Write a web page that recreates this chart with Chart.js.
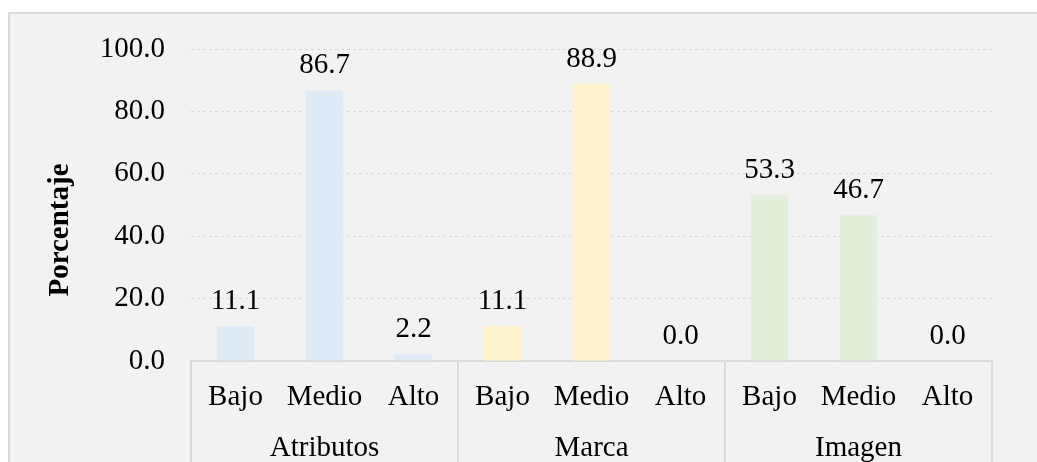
<!DOCTYPE html>
<html>
<head>
<meta charset="utf-8">
<script src="https://cdn.jsdelivr.net/npm/chart.js@4.4.1/dist/chart.umd.min.js"></script>
<style>
	html, body { margin: 0; padding: 0; background: #ffffff; overflow: hidden; }
	#panel {
		position: absolute; left: 8px; top: 12px; width: 1040px; height: 460px;
		background: #f2f2f2; border-left: 2px solid #d9d9d9; border-top: 2px solid #d9d9d9;
	}
	#myChart { position: absolute; left: 0; top: 0; }
</style>
</head>
<body>
<div id="panel"></div>
<canvas id="myChart" width="1037" height="462"></canvas>
<script>
const levels = ['Bajo', 'Medio', 'Alto']
const groups = ['Atributos', 'Marca', 'Imagen']
const atributos = [11.1, 86.7, 2.2]
const marca = [11.1, 88.9, 0.0]
const imagen = [53.3, 46.7, 0.0]
const groupColors = ['#deebf7', '#fff2cc', '#e2efda']
const yTicks = [0, 20, 40, 60, 80, 100]
const yTitle = 'Porcentaje'

const fontName = "'Liberation Serif', 'Times New Roman', serif"
const fontSize = 29
const lineColor = '#d9d9d9'

let labels = []
let values = []
let barColors = []
const series = [atributos, marca, imagen]
series.forEach((vals, g) => {
	vals.forEach((v, i) => {
		labels.push(levels[i])
		values.push(v)
		barColors.push(groupColors[g])
	})
})

// value labels above bars
const barValues = {
	id: 'barValues',
	afterDatasetsDraw(chart) {
		const ctx = chart.ctx
		const meta = chart.getDatasetMeta(0)
		ctx.save()
		ctx.font = fontSize + 'px ' + fontName
		ctx.fillStyle = '#000000'
		ctx.textAlign = 'center'
		ctx.textBaseline = 'alphabetic'
		meta.data.forEach((bar, i) => {
			ctx.fillText(values[i].toFixed(1), bar.x, bar.y - 17)
		})
		ctx.restore()
	}
}

// group labels, box lines under the x axis, and the y title
const groupAxis = {
	id: 'groupAxis',
	afterDraw(chart) {
		const ctx = chart.ctx
		const x = chart.scales.x
		const per = levels.length
		const half = (x.getPixelForValue(1) - x.getPixelForValue(0)) / 2
		const top = x.top
		const bottom = chart.height
		ctx.save()
		ctx.strokeStyle = lineColor
		ctx.lineWidth = 2
		for (let g = 0; g <= groups.length; g++) {
			let px
			if (g < groups.length) px = x.getPixelForValue(g * per) - half
			else px = x.getPixelForValue(g * per - 1) + half
			ctx.beginPath()
			ctx.moveTo(px, top)
			ctx.lineTo(px, bottom)
			ctx.stroke()
		}
		ctx.font = fontSize + 'px ' + fontName
		ctx.fillStyle = '#000000'
		ctx.textAlign = 'center'
		ctx.textBaseline = 'alphabetic'
		groups.forEach((name, g) => {
			const cx = (x.getPixelForValue(g * per) + x.getPixelForValue(g * per + per - 1)) / 2
			ctx.fillText(name, cx, 456)
		})

		// y axis title
		ctx.translate(61, 230)
		ctx.rotate(-Math.PI / 2)
		ctx.font = 'bold 29px ' + fontName
		ctx.textBaseline = 'middle'
		ctx.fillText(yTitle, 0, 0)
		ctx.restore()
	}
}

let cfg = {
	type: 'bar',
	data: {
		labels: labels,
		datasets: [{
			data: values,
			backgroundColor: barColors,
			borderWidth: 0,
			barPercentage: 0.42,
			categoryPercentage: 1
		}]
	},
	options: {
		responsive: false,
		animation: false,
		devicePixelRatio: 1,
		layout: { padding: { left: 0, top: 49, right: 45, bottom: 0 } },
		plugins: {
			legend: { display: false },
			tooltip: { enabled: false }
		},
		scales: {
			x: {
				grid: { display: false, drawTicks: false },
				border: { display: true, color: lineColor, width: 2 },
				ticks: {
					color: '#000000',
					font: { family: fontName, size: fontSize },
					padding: 19,
					maxRotation: 0,
					autoSkip: false
				},
				afterFit(scale) { scale.height = 101 }
			},
			y: {
				min: 0,
				max: 100,
				afterBuildTicks(scale) { scale.ticks = yTicks.map(v => ({ value: v })) },
				grid: { color: lineColor, lineWidth: 1, drawTicks: false },
				border: { display: false, dash: [3, 3] },
				ticks: {
					color: '#000000',
					font: { family: fontName, size: fontSize },
					padding: 26,
					callback: v => v.toFixed(1)
				},
				afterFit(scale) { scale.width = 191 }
			}
		}
	},
	plugins: [barValues, groupAxis]
}
new Chart('myChart', cfg)
</script>
</body>
</html>
